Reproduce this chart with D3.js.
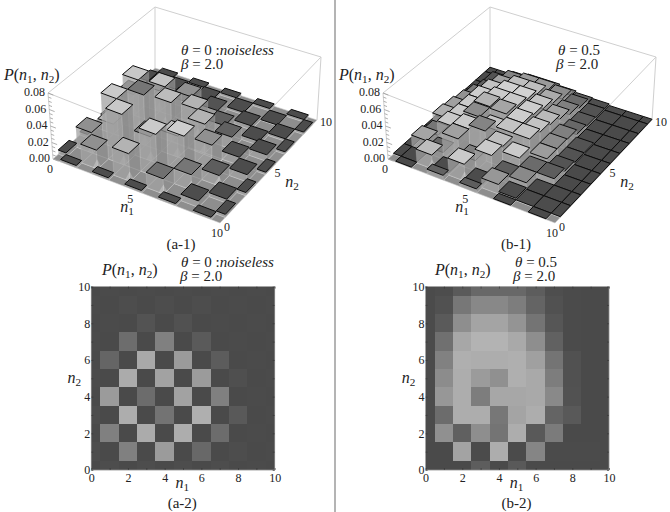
<!DOCTYPE html>
<html>
<head>
<meta charset="utf-8">
<script src="https://cdnjs.cloudflare.com/ajax/libs/d3/7.8.5/d3.min.js"></script>
<style>
  html, body { margin: 0; padding: 0; background: #fff; }
  text { font-family: "Liberation Serif", serif; fill: #222; }
</style>
</head>
<body>
<script>
// rows run from n2 = 10 down to n2 = 0, columns from n1 = 0 to n1 = 10

// read from the gray levels of the density panels
var densityNoiseless = [
  [0, .001, 0, .001, 0, .001, 0, .001, 0, .001, 0],
  [.001, 0, .002, 0, .002, 0, .002, 0, .001, 0, .001],
  [0, .001, 0, .007, 0, .005, 0, .001, 0, .001, 0],
  [.001, 0, .026, 0, .04, 0, .012, 0, .001, 0, .001],
  [0, .02, 0, .07, 0, .06, 0, .013, 0, .001, 0],
  [.001, 0, .072, 0, .065, 0, .06, 0, .004, 0, .001],
  [0, .06, 0, .025, 0, .065, 0, .04, 0, .001, 0],
  [.002, 0, .073, 0, .03, 0, .075, 0, .011, 0, .001],
  [0, .04, 0, .072, 0, .073, 0, .025, 0, .001, 0],
  [.002, 0, .04, 0, .06, 0, .022, 0, .002, 0, .001],
  [0, .002, 0, .002, 0, .002, 0, .002, 0, .001, 0]
];

var densityNoisy = [
  [.001, .002, .012, .022, .022, .022, .014, .003, .001, 0, 0],
  [.001, .005, .033, .046, .046, .038, .019, .005, .001, 0, 0],
  [.001, .012, .05, .067, .067, .055, .031, .009, .001, 0, 0],
  [.001, .028, .069, .078, .078, .07, .05, .017, .001, 0, 0],
  [.001, .041, .075, .073, .073, .075, .064, .031, .005, 0, 0],
  [.001, .049, .073, .06, .052, .075, .07, .038, .005, 0, 0],
  [.001, .057, .073, .038, .069, .069, .07, .047, .006, 0, 0],
  [.001, .025, .073, .073, .033, .067, .073, .019, .011, 0, 0],
  [.001, .052, .016, .05, .031, .073, .011, .036, 0, 0, 0],
  [0, 0, .066, .001, .073, .001, .044, .001, .001, .001, 0],
  [0, 0, 0, .014, 0, .011, 0, 0, 0, 0, 0]
];

var heightsNoiseless = [
  [0, .003, 0, .003, 0, .003, 0, .003, 0, .003, 0],
  [.003, 0, .004, 0, .004, 0, .003, 0, .001, 0, .003],
  [0, .004, 0, .008, 0, .01, 0, .005, 0, .003, 0],
  [.003, 0, .026, 0, .032, 0, .01, 0, .005, 0, .003],
  [0, .026, 0, .049, 0, .035, 0, .015, 0, .008, 0],
  [.003, 0, .062, 0, .048, 0, .036, 0, .01, 0, .003],
  [0, .012, 0, .062, 0, .026, 0, .03, 0, .009, 0],
  [.004, 0, .062, 0, .03, 0, .046, 0, .013, 0, .004],
  [0, .025, 0, .062, 0, .053, 0, .019, 0, .005, 0],
  [.005, 0, .023, 0, .034, 0, .019, 0, .008, 0, .004],
  [0, .003, 0, .003, 0, .003, 0, .003, 0, .003, 0]
];

var heightsNoisy = [
  [.001, .001, .005, .008, .008, .006, .004, .003, .001, .001, .001],
  [.001, .004, .012, .015, .015, .013, .008, .003, .001, .001, .001],
  [.001, .005, .018, .023, .023, .019, .012, .004, .001, .001, .001],
  [.001, .01, .023, .028, .028, .024, .018, .006, .001, .001, .001],
  [.001, .014, .026, .031, .031, .028, .023, .012, .003, .001, .001],
  [.001, .017, .026, .036, .034, .03, .026, .013, .003, .001, .001],
  [.001, .019, .026, .035, .026, .03, .03, .013, .005, .001, .001],
  [.001, .01, .028, .032, .037, .025, .019, .009, .009, .001, .001],
  [.001, .015, .008, .032, .013, .027, .008, .009, .001, .001, .001],
  [.001, .001, .017, .003, .021, .004, .012, .003, .001, .001, .001],
  [0, .001, 0, .006, 0, .005, 0, .001, 0, .001, 0]
];

var zTicks = [0, .02, .04, .06, .08];
var zMinorTicks = d3.range(0, .0801, .005);
var nTicks3d = [0, 5, 10];
var densityTicks = [0, 2, 4, 6, 8, 10];
var densityMinorTicks = d3.range(0, 11);

var svg = d3.select('body')
  .append('svg')
  .attr('width', 670)
  .attr('height', 512)
  .style('display', 'block');

svg.append('rect')
  .attr('x', 334)
  .attr('y', 0)
  .attr('width', 2)
  .attr('height', 512)
  .attr('fill', '#b4b4b4');

// unit square to quad, so the floor and lid of the box keep their perspective
function quadMap(q) {
  var dx1 = q[1][0] - q[2][0],
      dx2 = q[3][0] - q[2][0],
      dx3 = q[0][0] - q[1][0] + q[2][0] - q[3][0],
      dy1 = q[1][1] - q[2][1],
      dy2 = q[3][1] - q[2][1],
      dy3 = q[0][1] - q[1][1] + q[2][1] - q[3][1],
      det = dx1 * dy2 - dx2 * dy1,
      g = (dx3 * dy2 - dx2 * dy3) / det,
      h = (dx1 * dy3 - dx3 * dy1) / det,
      a = q[1][0] - q[0][0] + g * q[1][0],
      b = q[3][0] - q[0][0] + h * q[3][0],
      d = q[1][1] - q[0][1] + g * q[1][1],
      e = q[3][1] - q[0][1] + h * q[3][1];

  return function (u, v) {
    var w = g * u + h * v + 1;
    return [(a * u + b * v + q[0][0]) / w, (d * u + e * v + q[0][1]) / w];
  };
}

// corners in order (n1,n2) = (0,0), (10,0), (10,10), (0,10)
var floorMap = quadMap([[53, 159], [220, 223], [317, 120], [155, 68]]);
var lidMap = quadMap([[48, 93], [221, 161], [321, 57], [155, 7]]);

var nScale = d3.scaleLinear().domain([0, 10]).range([0, 1]);
var zScale = d3.scaleLinear().domain([0, .08]).range([0, 1]);
var topGray = d3.scaleLinear().domain([0, .075]).range(['#4a4a4a', '#cdcdcd']);
var densityGray = d3.scaleLinear().domain([0, .08]).range(['#4a4a4a', '#b6b6b6']);

function project(n1, n2, z) {
  var f = floorMap(nScale(n1), nScale(n2)),
      l = lidMap(nScale(n1), nScale(n2)),
      t = zScale(z);
  return [f[0] + (l[0] - f[0]) * t, f[1] + (l[1] - f[1]) * t];
}

function toCells(rows) {
  var cells = [];
  rows.forEach(function (row, r) {
    row.forEach(function (p, c) {
      cells.push({n1: c, n2: 10 - r, p: p});
    });
  });
  return cells;
}

function math(sel, x, y, size, anchor) {
  return sel.append('text')
    .attr('x', x)
    .attr('y', y)
    .attr('font-size', size)
    .attr('text-anchor', anchor || 'start');
}

function addNLabel(sel, x, y, size, index) {
  var t = math(sel, x, y, size, 'middle');
  t.append('tspan').attr('font-style', 'italic').text('n');
  t.append('tspan').attr('font-size', size * .7).attr('dy', 3).text(index);
}

function addPLabel(sel, x, y, size) {
  var t = math(sel, x, y, size);
  t.append('tspan').attr('font-style', 'italic').text('P');
  t.append('tspan').text('(');
  t.append('tspan').attr('font-style', 'italic').text('n');
  t.append('tspan').attr('font-size', size * .7).attr('dy', 3).text('1');
  t.append('tspan').attr('dy', -3).text(', ');
  t.append('tspan').attr('font-style', 'italic').text('n');
  t.append('tspan').attr('font-size', size * .7).attr('dy', 3).text('2');
  t.append('tspan').attr('dy', -3).text(')');
}

function addParams(sel, x, y, theta, note, beta, gap, betaDx) {
  var t = math(sel, x, y, 15);
  t.append('tspan').attr('font-style', 'italic').text('θ');
  t.append('tspan').text(' = ' + theta + (note ? ' :' : ''));
  if (note) {
    t.append('tspan').attr('font-style', 'italic').text(note);
  }
  var b = math(sel, x + betaDx, y + gap, 15);
  b.append('tspan').attr('font-style', 'italic').text('β');
  b.append('tspan').text(' = ' + beta);
}

function poly(sel, pts) {
  return sel.append('polygon').attr('points', pts.map(function (p) {
    return p.join(',');
  }).join(' '));
}

function drawBars(dx, heights, shades, panelName) {
  var g = svg.append('g').attr('transform', 'translate(' + dx + ',0)');
  var cells = toCells(heights);

  // far box edges first, they show through the bars
  var boxEdges = [
    [[0, 0, .08], [10, 0, .08]], [[10, 0, .08], [10, 10, .08]],
    [[10, 10, .08], [0, 10, .08]], [[0, 10, .08], [0, 0, .08]],
    [[0, 0, 0], [0, 0, .08]], [[10, 10, 0], [10, 10, .08]], [[0, 10, 0], [0, 10, .08]]
  ];

  // floor: everything starts as the mid gray of a zero cell
  cells.forEach(function (c) {
    var x0 = Math.max(0, c.n1 - .5), x1 = Math.min(10, c.n1 + .5),
        y0 = Math.max(0, c.n2 - .5), y1 = Math.min(10, c.n2 + .5);
    poly(g, [project(x0, y0, 0), project(x1, y0, 0), project(x1, y1, 0), project(x0, y1, 0)])
      .attr('fill', '#8e8e8e')
      .attr('stroke', '#d0d0d0')
      .attr('stroke-width', .6);
  });

  boxEdges.forEach(function (e) {
    var a = project(e[0][0], e[0][1], e[0][2]), b = project(e[1][0], e[1][1], e[1][2]);
    g.append('line')
      .attr('x1', a[0]).attr('y1', a[1])
      .attr('x2', b[0]).attr('y2', b[1])
      .attr('stroke', '#cfcfcf')
      .attr('stroke-width', 1);
  });

  zMinorTicks.forEach(function (z, i) {
    var a = project(0, 0, z), b = project(i % 4 === 0 ? .35 : .2, 0, z);
    g.append('line')
      .attr('x1', a[0]).attr('y1', a[1])
      .attr('x2', b[0]).attr('y2', b[1])
      .attr('stroke', '#9a9a9a')
      .attr('stroke-width', .8);
  });

  // back to front: the corner (0,10) is farthest from the viewer
  cells.slice().sort(function (a, b) {
    return (a.n1 - a.n2) - (b.n1 - b.n2);
  }).forEach(function (c) {
    if (c.p === 0) {
      return;
    }
    var x0 = Math.max(0, c.n1 - .5), x1 = Math.min(10, c.n1 + .5),
        y0 = Math.max(0, c.n2 - .5), y1 = Math.min(10, c.n2 + .5),
        z = c.p,
        shade = shades[10 - c.n2][c.n1];

    // bright patch on the floor at the near foot of the taller bars
    if (z > .012) {
      poly(g, [project(x1, y0, 0), project(x1 - .3, y0, 0), project(x1, y0, .012), project(x1, y0 + .3, 0)])
        .attr('fill', '#ffffff')
        .attr('fill-opacity', .85);
    }

    poly(g, [project(x0, y0, 0), project(x1, y0, 0), project(x1, y0, z), project(x0, y0, z)])
      .attr('fill', '#a2a2a2')
      .attr('fill-opacity', .75)
      .attr('stroke', '#ffffff')
      .attr('stroke-opacity', .2)
      .attr('stroke-width', .6);
    poly(g, [project(x1, y0, 0), project(x1, y1, 0), project(x1, y1, z), project(x1, y0, z)])
      .attr('fill', '#8e8e8e')
      .attr('fill-opacity', .75)
      .attr('stroke', '#ffffff')
      .attr('stroke-opacity', .2)
      .attr('stroke-width', .6);
    poly(g, [project(x0, y0, z), project(x1, y0, z), project(x1, y1, z), project(x0, y1, z)])
      .attr('fill', topGray(shade))
      .attr('stroke', '#0c0c0c')
      .attr('stroke-width', 1)
      .attr('stroke-linejoin', 'round');
  });

  zTicks.forEach(function (z) {
    var p = project(0, 0, z);
    math(g, p[0] - 3, p[1] + 3, 12, 'end').text(z.toFixed(2));
  });

  nTicks3d.forEach(function (n) {
    var a = project(n, 0, 0);
    math(g, a[0] - 3, a[1] + (n === 0 ? 14 : n === 5 ? 13 : 14), 12, 'middle').text(n);
  });
  nTicks3d.forEach(function (n) {
    var a = project(10, n, 0);
    math(g, a[0] + (n === 10 ? 3 : 7), a[1] + (n === 10 ? 6 : 8), 12, n === 10 ? 'start' : 'middle').text(n);
  });

  addNLabel(g, 127, 212, 16, '1');
  addNLabel(g, 292, 187, 16, '2');
  addPLabel(g, 4, 80, 16);
  math(g, 181, 249, 15, 'middle').text(panelName);
}

function drawDensity(dx, rows, panelName) {
  var size = 183.4,
      g = svg.append('g').attr('transform', 'translate(' + dx + ',286.6)'),
      cells = toCells(rows),
      x = d3.scaleLinear().domain([0, 10]).range([0, size]),
      y = d3.scaleLinear().domain([0, 10]).range([size, 0]);

  g.selectAll('rect.cell')
    .data(cells)
    .enter()
    .append('rect')
    .attr('class', 'cell')
    .attr('x', function (c) { return x(Math.max(0, c.n1 - .5)); })
    .attr('y', function (c) { return y(Math.min(10, c.n2 + .5)); })
    .attr('width', function (c) { return x(Math.min(10, c.n1 + .5)) - x(Math.max(0, c.n1 - .5)); })
    .attr('height', function (c) { return y(Math.max(0, c.n2 - .5)) - y(Math.min(10, c.n2 + .5)); })
    .attr('fill', function (c) { return densityGray(c.p); })
    .attr('shape-rendering', 'crispEdges');

  g.append('rect')
    .attr('width', size)
    .attr('height', size)
    .attr('fill', 'none')
    .attr('stroke', '#8f8f8f')
    .attr('stroke-width', .8);

  [
    d3.axisBottom(x).tickValues(densityMinorTicks).tickSize(-2).tickFormat(''),
    d3.axisTop(x).tickValues(densityMinorTicks).tickSize(-2).tickFormat('')
  ].forEach(function (axis, i) {
    var a = g.append('g').attr('transform', 'translate(0,' + (i ? 0 : size) + ')').call(axis);
    a.select('.domain').remove();
    a.selectAll('line').attr('stroke', '#333').attr('stroke-width', .6);
  });
  [
    d3.axisLeft(y).tickValues(densityMinorTicks).tickSize(-2).tickFormat(''),
    d3.axisRight(y).tickValues(densityMinorTicks).tickSize(-2).tickFormat('')
  ].forEach(function (axis, i) {
    var a = g.append('g').attr('transform', 'translate(' + (i ? size : 0) + ',0)').call(axis);
    a.select('.domain').remove();
    a.selectAll('line').attr('stroke', '#333').attr('stroke-width', .6);
  });

  var xLabels = g.append('g')
    .attr('transform', 'translate(0,' + size + ')')
    .call(d3.axisBottom(x).tickValues(densityTicks).tickSize(0).tickPadding(3));
  xLabels.select('.domain').remove();
  xLabels.selectAll('text').attr('font-size', 12).style('font-family', '"Liberation Serif", serif').attr('fill', '#222');

  var yLabels = g.append('g')
    .call(d3.axisLeft(y).tickValues(densityTicks).tickSize(0).tickPadding(1));
  yLabels.select('.domain').remove();
  yLabels.selectAll('text').attr('font-size', 12).style('font-family', '"Liberation Serif", serif').attr('fill', '#222');

  addNLabel(g, 91, 201.5, 16, '1');
  addNLabel(g, -17, 96, 16, '2');
  math(g, 91, 221, 15, 'middle').text(panelName);
}

drawBars(0, heightsNoiseless, densityNoiseless, '(a-1)');
addParams(svg, 181, 55, '0', 'noiseless', '2.0', 14, 0);
drawBars(335, heightsNoisy, densityNoisy, '(b-1)');
addParams(svg, 558, 55, '0.5', null, '2.0', 14, -2);

drawDensity(91.3, densityNoiseless, '(a-2)');
addPLabel(svg, 102, 275, 16);
addParams(svg, 181, 267, '0', 'noiseless', '2.0', 14, -1);
drawDensity(425.6, densityNoisy, '(b-2)');
addPLabel(svg, 435, 275, 16);
addParams(svg, 515, 267, '0.5', null, '2.0', 14, -2);
</script>
</body>
</html>
